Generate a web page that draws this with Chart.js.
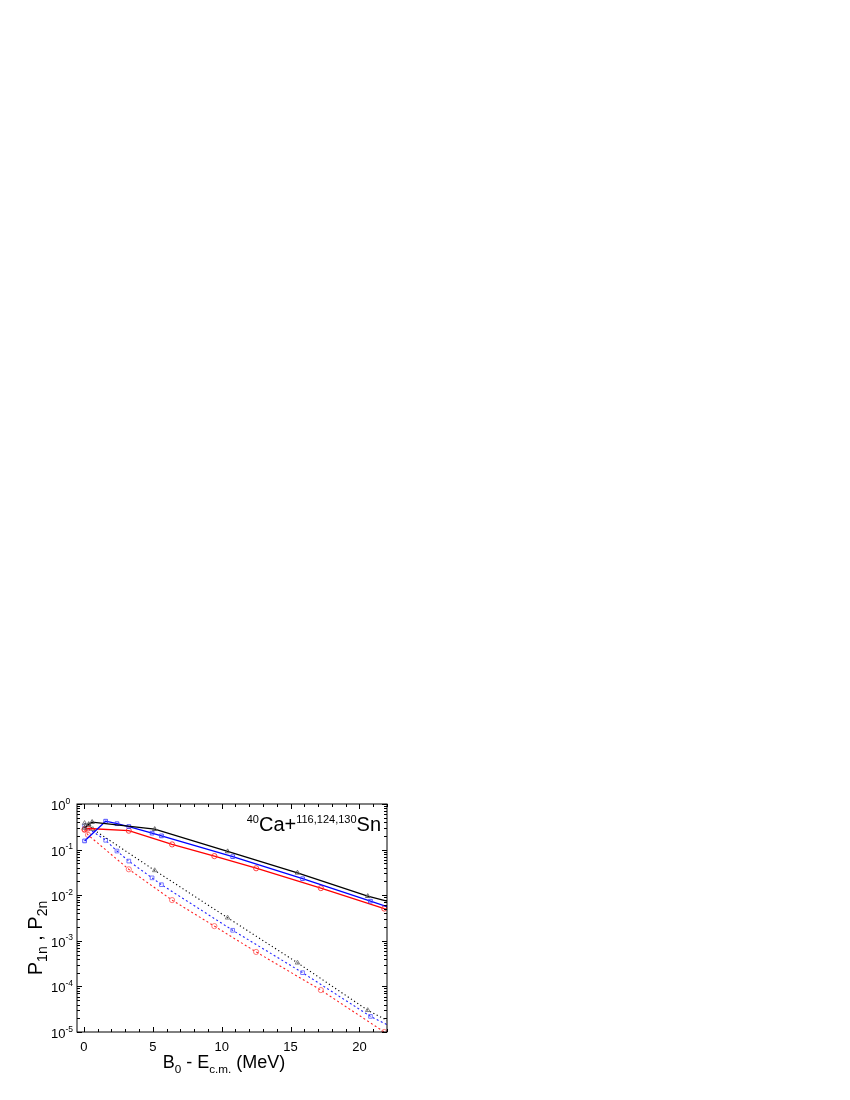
<!DOCTYPE html>
<html lang="en">
<head>
  <meta charset="UTF-8">
  <title>P1n, P2n vs B0 - Ec.m.</title>
  <script src="https://cdn.jsdelivr.net/npm/chart.js"></script>
  <style>
    body { margin: 0; padding: 0; background: #fff; }
    canvas { display: block; }
  </style>
</head>
<body>
  <canvas id="chart" width="850" height="1100"></canvas>
  <script>
    // x values (MeV) and probabilities
    // black: triangles, blue: squares, red: circles
    const blackX1 = [0.05, 0.35, 0.6, 5.14, 10.43, 15.5, 20.6, 22];
    const blackP1 = [0.30, 0.36, 0.40, 0.28, 0.091, 0.031, 0.0095, 0.0074];
    const blackX2 = [0.05, 0.35, 0.65, 5.14, 10.43, 15.5, 20.6, 22];
    const blackP2 = [0.38, 0.34, 0.28, 0.035, 0.0032, 3.3e-4, 3.0e-5, 1.8e-5];

    const blueX = [0.05, 1.58, 2.4, 3.26, 4.95, 5.63, 10.8, 15.87, 20.8, 22];
    const blueP1 = [0.155, 0.42, 0.37, 0.32, 0.23, 0.20, 0.070, 0.023, 0.0074, 0.0056];
    const blueP2 = [0.33, 0.16, 0.093, 0.056, 0.024, 0.017, 0.0017, 2.0e-4, 2.2e-5, 1.45e-5];

    const redX1 = [0.05, 0.3, 3.26, 6.4, 9.47, 12.5, 17.2, 21.8, 22];
    const redP1 = [0.28, 0.29, 0.26, 0.13, 0.072, 0.039, 0.0143, 0.0051, 0.0049];
    const redX2 = [0.05, 0.3, 3.26, 6.4, 9.47, 12.5, 17.2, 21.8];
    const redP2 = [0.27, 0.21, 0.037, 0.0078, 0.0021, 5.7e-4, 8.3e-5, 1.0e-5];

    const xTicks = [0, 5, 10, 15, 20];
    const yExps = [0, -1, -2, -3, -4, -5];

    const FONT = '"Liberation Sans", Arial, sans-serif';

    function pts(xs, ys) {
      return xs.map((x, i) => ({ x: x, y: ys[i] }));
    }

    // no marker on the last point when it is only the line end at the frame
    function radiusFor(xs, r) {
      return ctx => (xs[ctx.dataIndex] >= 22 ? 0 : r);
    }

    function series(xs, ys, color, markColor, style, dash, width) {
      return {
        data: pts(xs, ys),
        showLine: true,
        borderColor: color,
        borderWidth: width,
        borderDash: dash,
        pointStyle: style,
        pointRadius: radiusFor(xs, 2.6),
        pointBorderColor: markColor,
        pointBackgroundColor: 'rgba(0,0,0,0)',
        pointBorderWidth: 0.9,
        tension: 0
      };
    }

    // draw text runs with sub/superscripts
    function drawRuns(ctx, runs, x, y, size) {
      let cx = x;
      runs.forEach(r => {
        let fs = size, dy = 0;
        if (r.s === 'sup') { fs = r.fs || size * 0.6; dy = -size * 0.42; }
        if (r.s === 'sub') { fs = r.fs || size * 0.65; dy = size * 0.25; }
        ctx.font = fs + 'px ' + FONT;
        ctx.fillText(r.t, cx, y + dy);
        cx += ctx.measureText(r.t).width;
      });
      return cx - x;
    }

    function runsWidth(ctx, runs, size) {
      let w = 0;
      runs.forEach(r => {
        let fs = size;
        if (r.s === 'sup') fs = r.fs || size * 0.6;
        if (r.s === 'sub') fs = r.fs || size * 0.65;
        ctx.font = fs + 'px ' + FONT;
        w += ctx.measureText(r.t).width;
      });
      return w;
    }

    const framePlugin = {
      id: 'frame',
      afterDraw(chart) {
        const ctx = chart.ctx;
        const a = chart.chartArea;
        const xs = chart.scales.x;
        const ys = chart.scales.y;
        ctx.save();
        ctx.strokeStyle = '#000';
        ctx.fillStyle = '#000';
        ctx.lineWidth = 1;
        ctx.strokeRect(a.left, a.top, a.right - a.left, a.bottom - a.top);

        // x ticks inside, bottom and top
        for (let v = 0; v <= 22; v++) {
          const px = Math.round(xs.getPixelForValue(v)) + 0.5;
          const len = v % 5 === 0 ? 5 : 3;
          ctx.beginPath();
          ctx.moveTo(px, a.bottom); ctx.lineTo(px, a.bottom - len);
          ctx.moveTo(px, a.top); ctx.lineTo(px, a.top + len);
          ctx.stroke();
        }
        // y ticks inside, left and right
        yExps.forEach(e => {
          const steps = e === 0 ? [1] : [1, 2, 3, 4, 5, 6, 7, 8, 9];
          steps.forEach(k => {
            const v = k * Math.pow(10, e);
            const py = Math.round(ys.getPixelForValue(v)) + 0.5;
            const len = k === 1 ? 5 : 3;
            ctx.beginPath();
            ctx.moveTo(a.left, py); ctx.lineTo(a.left + len, py);
            ctx.moveTo(a.right, py); ctx.lineTo(a.right - len, py);
            ctx.stroke();
          });
        });

        // tick labels
        ctx.textBaseline = 'alphabetic';
        ctx.font = '13px ' + FONT;
        ctx.textAlign = 'center';
        xTicks.forEach(v => {
          ctx.fillText(String(v), xs.getPixelForValue(v), a.bottom + 18.5);
        });
        ctx.textAlign = 'left';
        yExps.forEach(e => {
          const py = ys.getPixelForValue(Math.pow(10, e));
          ctx.font = '13px ' + FONT;
          const w10 = ctx.measureText('10').width;
          ctx.fillText('10', 65.5 - w10, py + 6);
          ctx.font = '8.5px ' + FONT;
          ctx.fillText(e === 0 ? '0' : '-' + (-e), 65.5, py - 0.5);
        });

        // x axis title
        const xRuns = [
          { t: 'B', s: 'n' }, { t: '0', s: 'sub' }, { t: ' - E', s: 'n' },
          { t: 'c.m.', s: 'sub' }, { t: ' (MeV)', s: 'n' }
        ];
        const xw = runsWidth(ctx, xRuns, 18);
        drawRuns(ctx, xRuns, 224 - xw / 2, 1068, 18);

        // y axis title
        const yRuns = [
          { t: 'P', s: 'n' }, { t: '1n', s: 'sub', fs: 14 }, { t: ' , ', s: 'n' },
          { t: 'P', s: 'n' }, { t: '2n', s: 'sub', fs: 14 }
        ];
        const yw = runsWidth(ctx, yRuns, 20);
        ctx.save();
        ctx.translate(42, 938);
        ctx.rotate(-Math.PI / 2);
        drawRuns(ctx, yRuns, -yw / 2, 0, 20);
        ctx.restore();

        // reaction label
        const lab = [
          { t: '40', s: 'sup', fs: 11 }, { t: 'Ca+', s: 'n' },
          { t: '116,124,130', s: 'sup', fs: 11 }, { t: 'Sn', s: 'n' }
        ];
        const lw = runsWidth(ctx, lab, 20);
        drawRuns(ctx, lab, 381 - lw, 831, 20);
        ctx.restore();
      }
    };

    const ctx = document.getElementById('chart').getContext('2d');
    new Chart(ctx, {
      type: 'scatter',
      data: {
        datasets: [
          series(blackX1, blackP1, '#000000', '#555555', 'triangle', [], 1.3),
          series(blueX, blueP1, '#0000ff', '#4040ff', 'rect', [], 1.3),
          series(redX1, redP1, '#ff0000', '#ff3030', 'circle', [], 1.3),
          series(blackX2, blackP2, '#000000', '#777777', 'triangle', [1.2, 2.6], 1.1),
          series(blueX, blueP2, '#2020ff', '#6a6aff', 'rect', [2, 2.5], 1.1),
          series(redX2, redP2, '#ff2020', '#ff6a6a', 'circle', [2, 2.5], 1.1)
        ]
      },
      options: {
        responsive: false,
        animation: false,
        devicePixelRatio: 1,
        layout: { padding: { left: 77, top: 804, right: 463, bottom: 68 } },
        plugins: { legend: { display: false }, tooltip: { enabled: false } },
        scales: {
          x: {
            type: 'linear', min: -0.5, max: 22,
            grid: { display: false }, border: { display: false },
            ticks: { display: false },
            afterFit: s => { s.height = 0; }
          },
          y: {
            type: 'logarithmic', min: 1e-5, max: 1,
            grid: { display: false }, border: { display: false },
            ticks: { display: false },
            afterFit: s => { s.width = 0; }
          }
        }
      },
      plugins: [framePlugin]
    });
  </script>
</body>
</html>
